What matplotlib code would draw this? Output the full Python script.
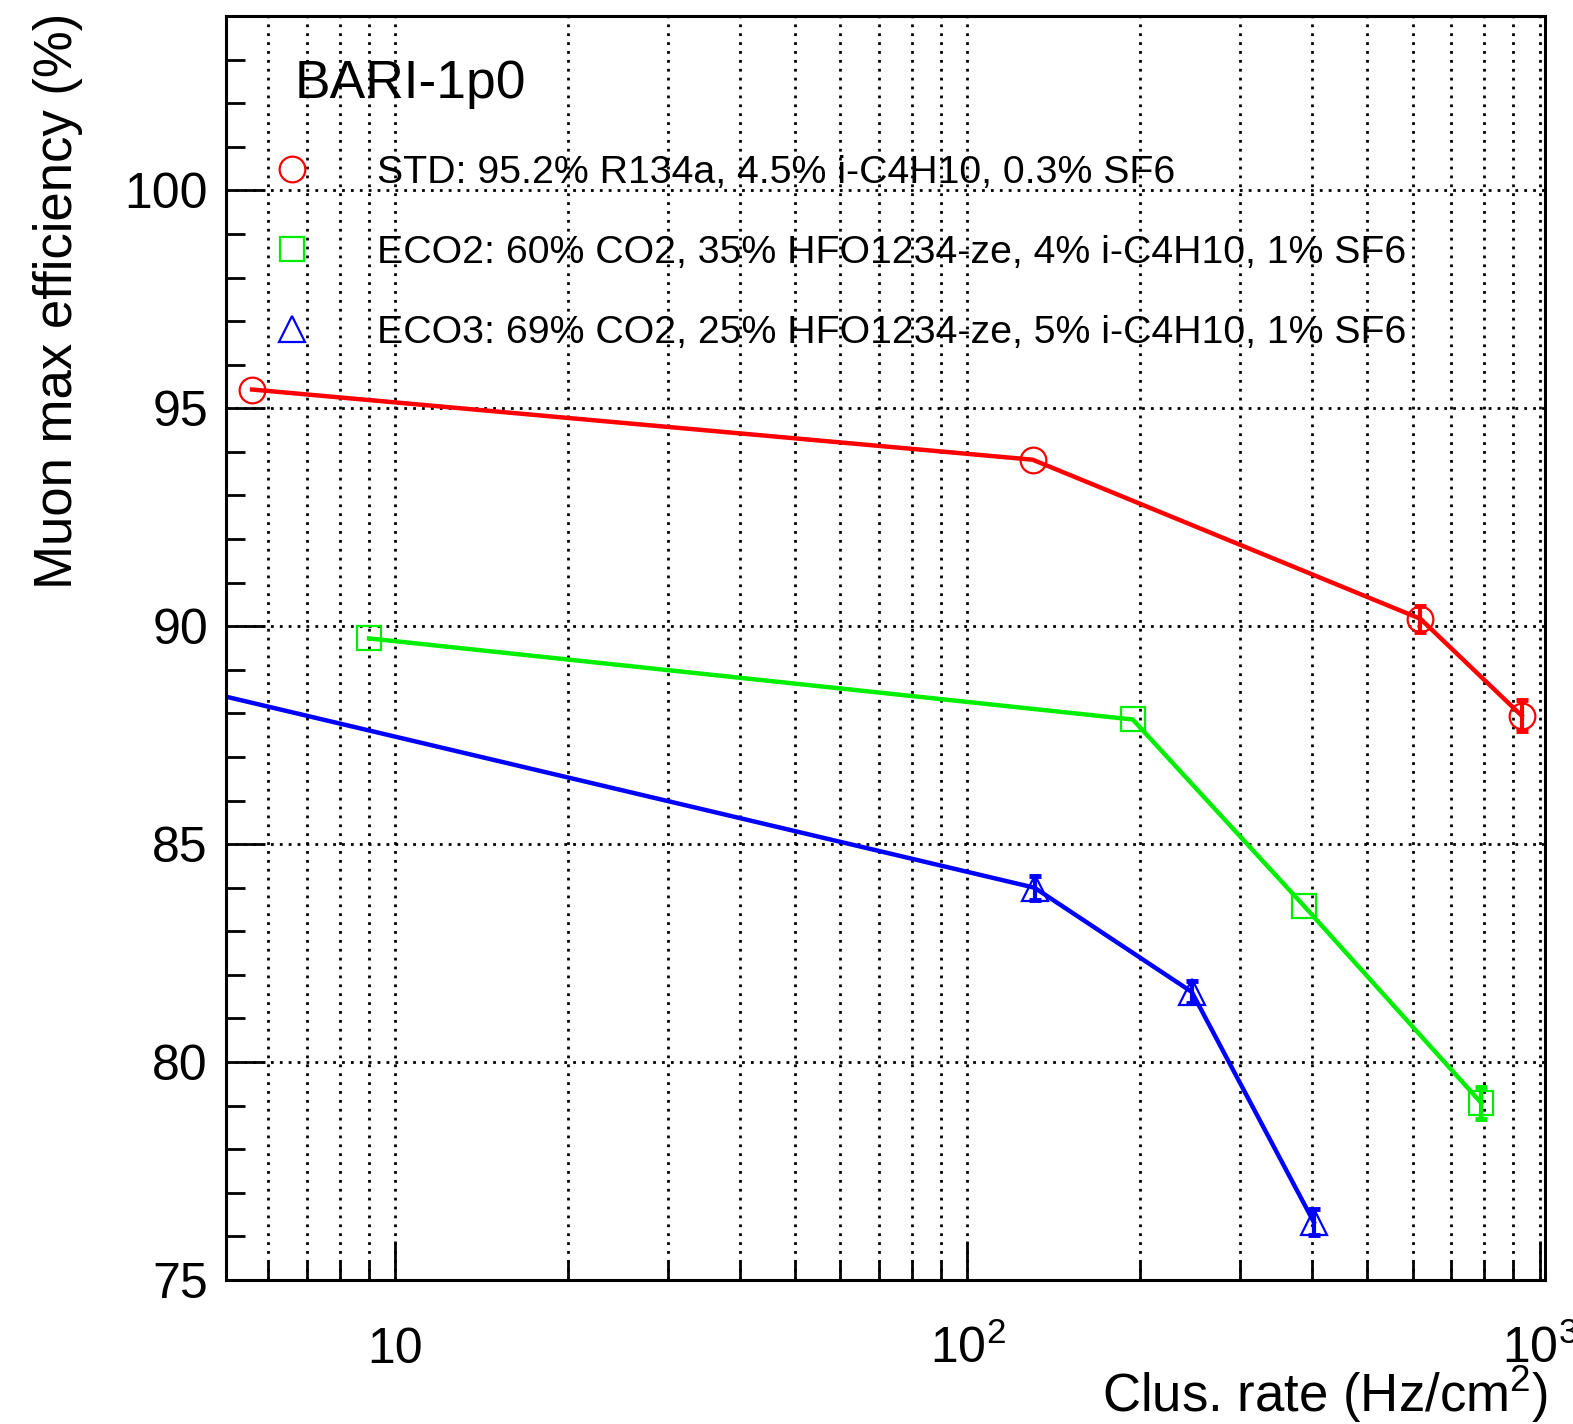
import matplotlib
matplotlib.use("Agg")
import matplotlib.pyplot as plt
from matplotlib.lines import Line2D
from matplotlib.ticker import FixedLocator, NullFormatter

plt.rcParams['font.family'] = ['Liberation Sans', 'DejaVu Sans']
plt.rcParams['mathtext.fontset'] = 'custom'
plt.rcParams['mathtext.rm'] = 'Liberation Sans'
plt.rcParams['mathtext.it'] = 'Liberation Sans:italic'
plt.rcParams['mathtext.default'] = 'regular'

# STD: 95.2% R134a, 4.5% i-C4H10, 0.3% SF6
std_rate = [5.62, 130, 619, 930]
std_eff = [95.43, 93.82, 90.17, 87.95]
std_err = [0.15, 0.15, 0.30, 0.35]

# ECO2
eco2_rate = [9.0, 194.5, 387, 791]
eco2_eff = [89.72, 87.86, 83.59, 79.06]
eco2_err = [0.15, 0.15, 0.15, 0.36]

# ECO3 (first point lies left of the frame)
eco3_rate = [4.0, 131, 246.6, 403]
eco3_eff = [88.7, 84.0, 81.61, 76.33]
eco3_err = [0.15, 0.28, 0.26, 0.29]

labels = ["STD: 95.2% R134a, 4.5% i-C4H10, 0.3% SF6",
          "ECO2: 60% CO2, 35% HFO1234-ze, 4% i-C4H10, 1% SF6",
          "ECO3: 69% CO2, 25% HFO1234-ze, 5% i-C4H10, 1% SF6"]
colors = ['#ff0000', '#00ee00', '#0000ff']
markers = ['o', 's', '^']
msizes = [18.5, 17, 18.5]

fig = plt.figure(figsize=(15.73, 14.24), dpi=100)
ax = fig.add_axes([226/1573, 1 - 1280/1424, 1319/1573, 1264/1424])

series = [(std_rate, std_eff, std_err), (eco2_rate, eco2_eff, eco2_err),
          (eco3_rate, eco3_eff, eco3_err)]
for (x, y, e), c, m, ms in zip(series, colors, markers, msizes):
    ax.plot(x, y, color=c, lw=3.2, marker=m, ms=ms, mfc='none', mec=c, mew=1.6)
    # error bars smaller than the marker are hidden, as in ROOT
    big = [i for i in range(len(e)) if e[i] > 0.2]
    ax.errorbar([x[i] for i in big], [y[i] for i in big], yerr=[e[i] for i in big],
                fmt='none', ecolor=c, elinewidth=3, capsize=4, capthick=3.5)

ax.set_xscale('log')
ax.set_xlim(5.06, 1022)
ax.set_ylim(75, 104.0)

# axes styling, ROOT-like
for s in ax.spines.values():
    s.set_linewidth(2.2)
ax.set_xticks([10, 100, 1000])
ax.set_xticklabels(["10", "$10^{2}$", "$10^{3}$"])
minors = [m * 10**d for d in range(0, 3) for m in range(2, 10)]
ax.xaxis.set_minor_locator(FixedLocator(minors))
ax.xaxis.set_minor_formatter(NullFormatter())
ax.set_yticks([75, 80, 85, 90, 95, 100])
ax.yaxis.set_minor_locator(FixedLocator(range(75, 105)))
ax.tick_params(which='both', direction='in', top=False, right=False)
ax.tick_params(which='major', length=28, width=2.0, labelsize=36)
ax.tick_params(which='minor', length=14, width=2.0)
ax.tick_params(axis='x', which='major', pad=60)
ax.tick_params(axis='y', which='major', pad=13)
for lab in ax.get_xticklabels():
    lab.set_va('baseline')

ax.grid(True, which='major', axis='both', color='black', lw=2.0, ls=(0, (1, 2.2)))
ax.grid(True, which='minor', axis='x', color='black', lw=2.0, ls=(0, (1, 2.2)))
ax.set_axisbelow(True)

ax.set_xlabel("Clus. rate (Hz/cm$^{2}$)", fontsize=38, loc='right')
ax.xaxis.set_label_coords(1.002, -0.1044)
ax.xaxis.label.set_va('baseline')
ax.set_ylabel("Muon max efficiency (%)", fontsize=38, loc='top')
ax.yaxis.set_label_coords(-0.1168, 1.0024)
ax.yaxis.label.set_va('baseline')

ax.text(0.052, 0.935, "BARI-1p0", transform=ax.transAxes, fontsize=38.4,
        va='baseline', ha='left')

handles = [Line2D([], [], ls='none', marker=m, ms=ms, mfc='none', mec=c, mew=1.6)
           for c, m, ms in zip(colors, markers, msizes)]
ax.legend(handles, labels, loc='upper left', bbox_to_anchor=(0.0202, 0.8904),
          frameon=False, fontsize=28.3, borderpad=0, borderaxespad=0,
          handlelength=2.0, handletextpad=1.163, labelspacing=1.12)

fig.savefig("out.png", dpi=100)
